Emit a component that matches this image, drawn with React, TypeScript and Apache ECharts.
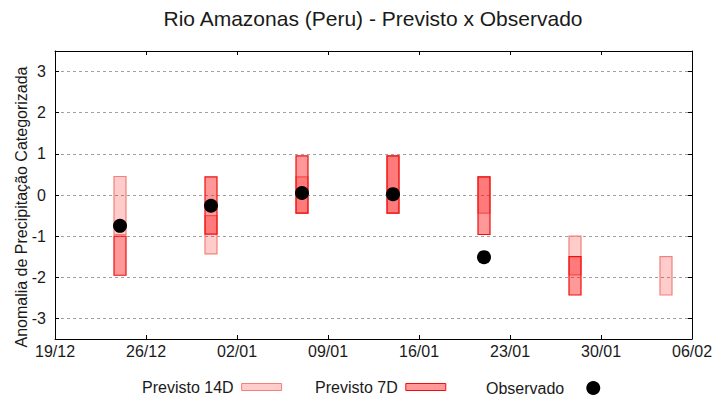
import React, { useEffect, useRef } from "react";
import * as echarts from "echarts";

const titleText = "Rio Amazonas (Peru) - Previsto x Observado";
const yAxisTitle = "Anomalia de Precipitação Categorizada";
const startDate = "2023-12-19";
const endDate = "2024-02-06";
const tickStepDays = 7;
const yTicks = [-3, -2, -1, 0, 1, 2, 3];

const dates = ["2023-12-24", "2023-12-31", "2024-01-07", "2024-01-14", "2024-01-21", "2024-01-28", "2024-02-04"];
const prev14Low = [-0.96, -1.43, -0.44, -0.44, -0.44, -1.0, -1.5];
const prev14High = [0.45, -0.5, 0.44, 0.95, 0.44, -1.94, -2.43];
const prev7Low = [-1.95, -0.95, -0.44, -0.44, -0.96, -2.43, null];
const prev7High = [-1.0, 0.44, 0.95, 0.95, 0.44, -1.5, null];
const observed = [-0.75, -0.26, 0.05, 0.02, -1.51, null, null];

const DAY = 86400000;
const t0 = Date.parse(startDate + "T00:00:00Z");
const dayOffset = (d: string) => Math.round((Date.parse(d + "T00:00:00Z") - t0) / DAY);
const totalDays = dayOffset(endDate);

const FONT = "Liberation Sans";
const C14_FILL = "rgba(255,0,0,0.2)";
const C14_STROKE = "#f4807a";
const C7_FILL = "rgba(255,0,0,0.4)";
const C7_STROKE = "#ee1010";

function fmtDay(v: number) {
  const d = new Date(t0 + v * DAY);
  const dd = String(d.getUTCDate()).padStart(2, "0");
  const mm = String(d.getUTCMonth() + 1).padStart(2, "0");
  return dd + "/" + mm;
}

function rangeData(lows: (number | null)[], highs: (number | null)[]) {
  const out: number[][] = [];
  dates.forEach((d, i) => {
    const a = lows[i];
    const b = highs[i];
    if (a == null || b == null) return;
    out.push([dayOffset(d), Math.min(a, b), Math.max(a, b)]);
  });
  return out;
}

function makeRender(fill: string, stroke: string) {
  return (params: any, api: any) => {
    const x = api.value(0);
    const p1 = api.coord([x, api.value(1)]);
    const p2 = api.coord([x, api.value(2)]);
    const w = 12;
    return {
      type: "rect",
      shape: { x: p1[0] - w / 2, y: Math.min(p1[1], p2[1]), width: w, height: Math.abs(p1[1] - p2[1]) },
      style: { fill, stroke, lineWidth: 1.2 },
    };
  };
}

export default function App() {
  const ref = useRef<HTMLDivElement>(null);
  useEffect(() => {
    if (!ref.current) return;
    const chart = echarts.init(ref.current, undefined, { renderer: "svg" });
    const axisLine = { show: true, onZero: false, lineStyle: { color: "#000", width: 1 } };
    const tick = { show: true, inside: true, length: 4, lineStyle: { color: "#000", width: 1 } };
    const obsData: number[][] = [];
    dates.forEach((d, i) => {
      const v = observed[i];
      if (v != null) obsData.push([dayOffset(d), v]);
    });
    chart.setOption({
      animation: false,
      backgroundColor: "#fff",
      textStyle: { fontFamily: FONT },
      title: {
        text: titleText,
        left: 373,
        top: 8,
        padding: 0,
        textAlign: "center",
        textStyle: { fontFamily: FONT, fontSize: 21, fontWeight: "normal", color: "#1a1a1a" },
      },
      grid: { left: 55, right: 28, top: 51, bottom: 61, containLabel: false },
      legend: [
        {
          left: 142,
          top: 379,
          padding: 0,
          align: "right",
          itemWidth: 40,
          itemHeight: 7,
          itemGap: 33,
          textStyle: { fontFamily: FONT, fontSize: 16, color: "#1a1a1a", padding: [0, 3, 0, 0] },
          data: [
            { name: "Previsto 14D", icon: "rect", itemStyle: { color: C14_FILL, borderColor: C14_STROKE, borderWidth: 1 } },
            { name: "Previsto 7D", icon: "rect", itemStyle: { color: C7_FILL, borderColor: C7_STROKE, borderWidth: 1 } },
          ],
        },
        {
          left: 486,
          top: 380,
          padding: 0,
          align: "right",
          itemWidth: 14,
          itemHeight: 14,
          textStyle: { fontFamily: FONT, fontSize: 16, color: "#1a1a1a", padding: [0, 17, 0, 0] },
          data: [{ name: "Observado", icon: "circle", itemStyle: { color: "#000", opacity: 1 } }],
        },
      ],
      xAxis: [
        {
          type: "value",
          min: 0,
          max: totalDays,
          interval: tickStepDays,
          axisLine,
          axisTick: tick,
          splitLine: { show: false },
          axisLabel: {
            formatter: (v: number) => fmtDay(v),
            fontFamily: FONT,
            fontSize: 16,
            color: "#1a1a1a",
            margin: 4,
            showMinLabel: true,
            showMaxLabel: true,
          },
        },
        {
          type: "value",
          position: "top",
          min: 0,
          max: totalDays,
          interval: tickStepDays,
          axisLine,
          axisTick: tick,
          splitLine: { show: false },
          axisLabel: { show: false },
        },
      ],
      yAxis: [
        {
          type: "value",
          min: -3.5,
          max: 3.5,
          splitNumber: 7,
          minInterval: 1,
          maxInterval: 1,
          axisLine,
          axisTick: tick,
          splitLine: { show: true, lineStyle: { color: "#a0a0a0", width: 1, type: [3, 3] } },
          axisLabel: {
            formatter: (v: number) => (yTicks.includes(v) ? String(v) : ""),
            showMinLabel: false,
            showMaxLabel: false,
            fontFamily: FONT,
            fontSize: 16,
            color: "#1a1a1a",
            margin: 9,
          },
        },
        {
          type: "value",
          position: "right",
          min: -3.5,
          max: 3.5,
          splitNumber: 7,
          minInterval: 1,
          maxInterval: 1,
          axisLine,
          axisTick: tick,
          splitLine: { show: false },
          axisLabel: { show: false },
        },
      ],
      graphic: [
        {
          type: "text",
          x: 21,
          y: 207,
          rotation: Math.PI / 2,
          style: {
            text: yAxisTitle,
            font: "16px 'Liberation Sans'",
            fill: "#1a1a1a",
            textAlign: "center",
            textVerticalAlign: "middle",
          },
        },
      ],
      series: [
        {
          name: "Previsto 14D",
          type: "custom",
          xAxisIndex: 0,
          yAxisIndex: 0,
          renderItem: makeRender(C14_FILL, C14_STROKE),
          encode: { x: 0, y: [1, 2] },
          itemStyle: { color: C14_FILL, borderColor: C14_STROKE },
          data: rangeData(prev14Low, prev14High),
          z: 2,
        },
        {
          name: "Previsto 7D",
          type: "custom",
          xAxisIndex: 0,
          yAxisIndex: 0,
          renderItem: makeRender(C7_FILL, C7_STROKE),
          encode: { x: 0, y: [1, 2] },
          itemStyle: { color: C7_FILL, borderColor: C7_STROKE },
          data: rangeData(prev7Low, prev7High),
          z: 3,
        },
        {
          name: "Observado",
          type: "scatter",
          xAxisIndex: 0,
          yAxisIndex: 0,
          symbol: "circle",
          symbolSize: 14,
          itemStyle: { color: "#000", opacity: 1 },
          data: obsData,
          z: 4,
        },
      ],
    });
    return () => chart.dispose();
  }, []);
  return <div ref={ref} style={{ width: 720, height: 400, position: "absolute", left: 0, top: 0 }} />;
}
